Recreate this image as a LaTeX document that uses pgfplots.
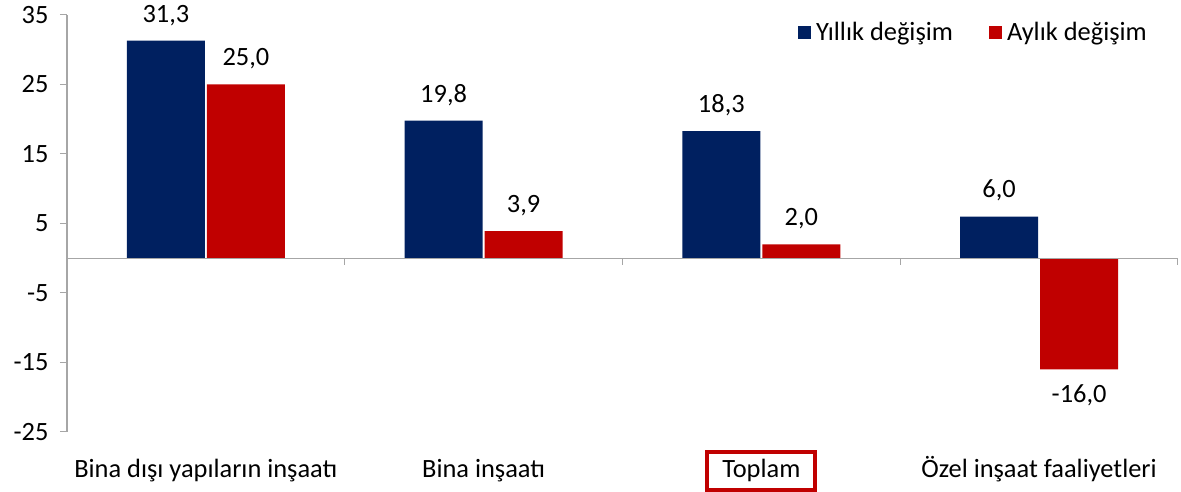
\documentclass[border=0pt]{standalone}
\usepackage{pgfplots}
\pgfplotsset{compat=1.18}
\usepackage{fontspec}
\setmainfont{Carlito}
\definecolor{navy}{HTML}{002060}
\definecolor{dred}{HTML}{C00000}
\definecolor{axgray}{HTML}{A6A6A6}
\begin{document}
\begin{tikzpicture}[x=1bp,y=1bp]
\useasboundingbox (-67,-60) rectangle (1114,432);
\begin{axis}[
  at={(0,0)}, anchor=south west,
  scale only axis, width=1111bp, height=417bp,
  xmin=-0.5, xmax=3.5, ymin=-25, ymax=35,
  clip=false,
  ybar=2bp, bar width=78bp,
  axis lines=left,
  axis line style={axgray, line width=1.2bp, -},
  x axis line style={draw=none},
  xtick={0,1,2,3},
  xticklabels={Bina dışı yapıların inşaatı, Bina inşaatı, {\setlength{\fboxrule}{4bp}\setlength{\fboxsep}{6bp}\fcolorbox{dred}{white}{\hspace{7bp}Toplam\hspace{7bp}}}, Özel inşaat faaliyetleri},
  x tick style={draw=none},
  ytick={-25,-15,...,35},
  y tick style={axgray, line width=1bp},
  tick align=outside, major tick length=7bp,
  /pgf/number format/assume math mode=true,
  tick label style={font=\fontsize{26.5}{30}\selectfont, black},
  x tick label style={anchor=base, yshift=-39bp},
  y tick label style={xshift=-8bp},
  nodes near coords={\pgfmathprintnumber[fixed,fixed zerofill,precision=1,use comma,assume math mode=true]{\pgfplotspointmeta}},
  every node near coord/.append style={font=\fontsize{26.5}{30}\selectfont, black, inner ysep=15bp},
  legend style={at={(1,1)}, anchor=north east, xshift=-26bp, yshift=-3bp, draw=none, fill=none,
    legend columns=2, font=\fontsize{26.5}{30}\selectfont,
    /tikz/every odd column/.append style={column sep=3bp},
    /tikz/every even column/.append style={column sep=34bp}},
  legend image code/.code={\fill[#1] (0bp,-6.5bp) rectangle (13bp,6.5bp);},
]
\addplot[fill=navy, draw=none] coordinates {(0,31.3) (1,19.8) (2,18.3) (3,6.0)};
\addplot[fill=dred, draw=none] coordinates {(0,25.0) (1,3.9) (2,2.0) (3,-16.0)};
\legend{Yıllık değişim, Aylık değişim}
\draw[axgray, line width=1.2bp] (axis cs:-0.5,0) -- (axis cs:3.5,0);
\pgfplotsinvokeforeach{0.5,1.5,2.5,3.5}{\draw[axgray, line width=1bp] (axis cs:#1,0) -- ([yshift=-7bp]axis cs:#1,0);}
\end{axis}
\end{tikzpicture}
\end{document}
